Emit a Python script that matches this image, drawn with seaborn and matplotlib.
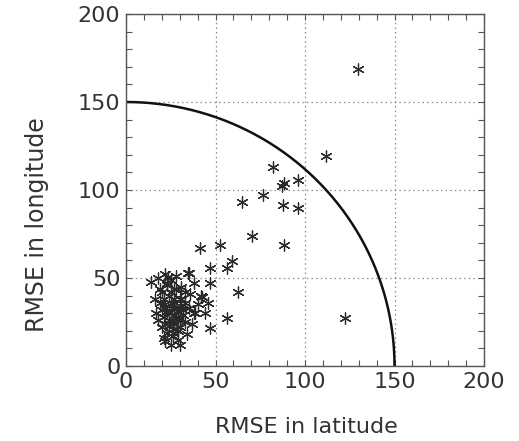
import numpy as np
import pandas as pd
import matplotlib
matplotlib.use("Agg")
import matplotlib.pyplot as plt
import seaborn as sns
from matplotlib.ticker import MultipleLocator

# RMSE of each track (latitude, longitude)
rmse_lat = [14, 18, 22, 25, 28, 31, 35, 38, 42, 27, 20, 24, 30, 33, 36, 19, 22, 26, 29, 32,
            35, 38, 17, 21, 24, 27, 30, 33, 20, 23, 26, 29, 25, 22, 18, 34, 28, 31, 24, 19,
            40, 37, 27, 23, 33, 16, 21, 30, 26, 44,
            21, 25, 28, 23, 27, 30, 22, 26, 29, 24, 31, 20, 25, 28, 23, 32, 26, 29, 22, 27,
            41.3, 52.5, 59.0, 46.9, 56.3, 34.8, 23.6, 62.7, 46.9, 42.3, 46.0, 56.3, 46.9, 38.5,
            70.2, 88.4, 64.6, 76.4, 87.9, 96.3, 87.0, 88.0, 96.3, 82.3, 111.7, 129.6, 122.3]
rmse_lon = [48, 50, 52, 49, 51, 45, 53, 47, 40, 44, 42, 40, 38, 36, 41, 36, 33, 35, 31, 29,
            33, 30, 30, 28, 26, 24, 22, 25, 22, 19, 17, 15, 12, 14, 26, 18, 28, 34, 30, 44,
            35, 24, 38, 46, 42, 38, 16, 12, 21, 30,
            38, 36, 33, 31, 29, 27, 35, 25, 20, 23, 38, 32, 42, 44, 47, 32, 19, 26, 24, 33,
            66.9, 68.8, 59.8, 55.5, 55.5, 52.6, 50.7, 42.2, 47.0, 39.4, 35.6, 27.0, 21.4, 29.9,
            74.0, 68.8, 93.3, 97.2, 91.5, 89.6, 102.0, 104.0, 105.7, 113.3, 119.3, 169.0, 27.3]

# threshold radius for the combined error
radius = 150
axis_ticks = [0, 50, 100, 150, 200]

df = pd.DataFrame({"lat": rmse_lat, "lon": rmse_lon})

sns.set_style("white")
plt.rcParams["font.family"] = ["DejaVu Sans"]

fig = plt.figure(figsize=(5.19, 4.41), dpi=100)
ax = fig.add_axes([126 / 519, 75 / 441, 358 / 519, 352 / 441])

theta = np.linspace(0, np.pi / 2, 300)
circle = pd.DataFrame({"lat": radius * np.cos(theta), "lon": radius * np.sin(theta)})
sns.lineplot(data=circle, x="lat", y="lon", sort=False, color="#111111", lw=1.8, ax=ax)

sns.scatterplot(data=df, x="lat", y="lon", marker=(6, 2, 0), s=65,
                color="#2a2a2a", edgecolor="#2a2a2a", linewidth=0.9, ax=ax, zorder=3)

ax.set_xlim(0, 200)
ax.set_ylim(0, 200)
ax.set_xticks(axis_ticks)
ax.set_yticks(axis_ticks)
ax.xaxis.set_minor_locator(MultipleLocator(10))
ax.yaxis.set_minor_locator(MultipleLocator(10))
ax.tick_params(which="both", direction="in", top=True, right=True, bottom=True, left=True,
               length=4, width=0.8, color="#555555", labelsize=16, labelcolor="#333333", pad=4)
ax.grid(True, which="major", linestyle=(0, (1.2, 2.5)), color="#888888", lw=0.9)
for s in ax.spines.values():
    s.set_color("#555555")
    s.set_linewidth(1.0)

ax.set_xlabel("RMSE in latitude", fontsize=16, color="#333333")
ax.set_ylabel("RMSE in longitude", fontsize=17, color="#333333")
ax.xaxis.set_label_coords(0.503, -0.173)
ax.yaxis.set_label_coords(-0.249, 0.403)
ax.xaxis.label.set_va("center")
ax.yaxis.label.set_va("center")

fig.savefig("out.png", dpi=100)
